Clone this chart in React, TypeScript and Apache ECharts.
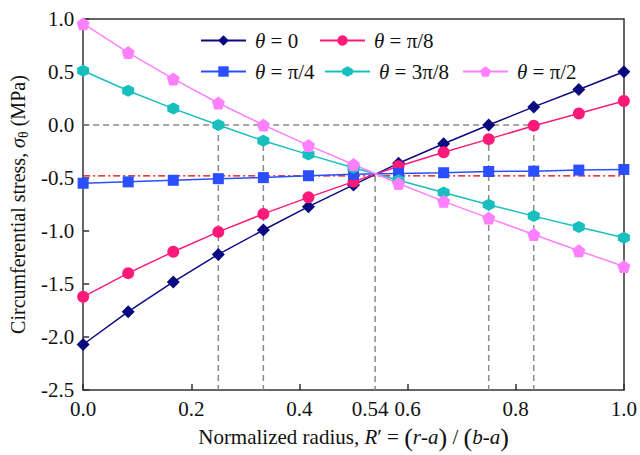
import React, { useEffect, useRef } from "react";
import * as echarts from "echarts";

const xValues = [0, 0.0833, 0.1667, 0.25, 0.3333, 0.4167, 0.5, 0.5833, 0.6667, 0.75, 0.8333, 0.9167, 1];
const theta0 = [-2.07, -1.76, -1.48, -1.22, -0.99, -0.77, -0.565, -0.36, -0.177, 0.0, 0.171, 0.335, 0.503];
const thetaPi8 = [-1.62, -1.397, -1.195, -1.008, -0.838, -0.682, -0.534, -0.388, -0.257, -0.133, -0.006, 0.109, 0.227];
const thetaPi4 = [-0.549, -0.536, -0.521, -0.506, -0.496, -0.478, -0.465, -0.456, -0.45, -0.438, -0.435, -0.425, -0.419];
const theta3Pi8 = [0.512, 0.323, 0.155, 0.0, -0.149, -0.279, -0.403, -0.52, -0.636, -0.751, -0.859, -0.962, -1.064];
const thetaPi2 = [0.956, 0.683, 0.435, 0.208, 0.0, -0.192, -0.372, -0.552, -0.72, -0.878, -1.033, -1.185, -1.334];

const seriesNames = ["θ = 0", "θ = π/8", "θ = π/4", "θ = 3π/8", "θ = π/2"];
const seriesColors = ["#0A0A80", "#FF1A7A", "#2B4EFF", "#17BFBF", "#FF80FF"];

const xTickValues = [0, 0.2, 0.4, 0.6, 0.8, 1.0];
const xLabelValues = [0, 0.2, 0.4, 0.54, 0.6, 0.8, 1.0];
const xLabelTexts = ["0.0", "0.2", "0.4", "0.54", "0.6", "0.8", "1.0"];

// reference lines
const zeroCrossX = [0.25, 0.3333, 0.75, 0.8333];
const intersectX = 0.54;
const intersectY = -0.48;
const yMin = -2.5;

const FONT = "'Liberation Serif', 'Times New Roman', serif";

const PENTAGON = "path://M0,-10 L9.51,-3.09 L5.88,8.09 L-5.88,8.09 L-9.51,-3.09 Z";
const HEXAGON = "path://M0,-10 L8.66,-5 L8.66,5 L0,10 L-8.66,5 L-8.66,-5 Z";

export default function App() {
  const ref = useRef<HTMLDivElement>(null);
  useEffect(() => {
    if (!ref.current) return;
    const chart = echarts.init(ref.current, null, { renderer: "svg" });
    const dataSets = [theta0, thetaPi8, thetaPi4, theta3Pi8, thetaPi2];
    const symbols = ["diamond", "circle", "rect", HEXAGON, PENTAGON];
    const sizes = [13, 12, 11, 12, 13];

    const dashed = { color: "#8a8a8a", width: 1.5, type: [6, 4] as any };
    const refSeries: any[] = [];
    refSeries.push({
      type: "line",
      data: [[0, 0], [zeroCrossX[zeroCrossX.length - 1], 0]],
      symbol: "none",
      lineStyle: dashed,
      silent: true,
      z: 1,
    });
    zeroCrossX.forEach((x) => {
      refSeries.push({
        type: "line",
        data: [[x, 0], [x, yMin]],
        symbol: "none",
        lineStyle: dashed,
        silent: true,
        z: 1,
      });
    });
    refSeries.push({
      type: "line",
      data: [[intersectX, intersectY], [intersectX, yMin]],
      symbol: "none",
      lineStyle: dashed,
      silent: true,
      z: 1,
    });
    refSeries.push({
      type: "line",
      data: [[0, intersectY], [1, intersectY]],
      symbol: "none",
      lineStyle: { color: "#E00000", width: 1.2, type: [7, 3, 2, 3] as any },
      silent: true,
      z: 1,
    });

    const dataSeries = dataSets.map((ys, i) => ({
      name: seriesNames[i],
      type: "line",
      data: ys.map((y, k) => [xValues[k], y]),
      symbol: symbols[i],
      symbolSize: sizes[i],
      color: seriesColors[i],
      itemStyle: { color: seriesColors[i] },
      lineStyle: { color: seriesColors[i], width: 1.5 },
      z: 3,
    }));

    const legendPos = [
      { left: 200, top: 30 },
      { left: 319, top: 30 },
      { left: 200, top: 61 },
      { left: 324, top: 61 },
      { left: 462, top: 61 },
    ];

    const legends = seriesNames.map((n, i) => ({
      data: [n],
      left: legendPos[i].left,
      top: legendPos[i].top,
      padding: 0,
      itemWidth: 45,
      itemHeight: 13,
      selectedMode: false,
      formatter: (name: string) => "{i|θ}" + name.slice(1),
      textStyle: {
        fontFamily: FONT,
        fontSize: 21,
        color: "#111",
        padding: [0, 0, 0, 4],
        rich: { i: { fontFamily: FONT, fontSize: 21, fontStyle: "italic", color: "#111" } },
      },
    }));

    const axisLine = { show: true, onZero: false, lineStyle: { color: "#333", width: 1.5 } };

    chart.setOption({
      animation: false,
      textStyle: { fontFamily: FONT },
      grid: { left: 76, right: 14, top: 19, bottom: 60, containLabel: false },
      legend: legends,
      xAxis: [
        {
          type: "value",
          min: 0,
          max: 1,
          interval: 0.2,
          axisLine: axisLine,
          axisTick: { show: true, inside: true, length: 6, customValues: xTickValues, lineStyle: { color: "#333", width: 1.5 } },
          axisLabel: {
            customValues: xLabelValues,
            margin: 8,
            fontFamily: FONT,
            fontSize: 21,
            color: "#111",
            formatter: (v: number) => {
              const idx = xLabelValues.findIndex((t) => Math.abs(t - v) < 1e-6);
              if (idx < 0) return "";
              return xLabelTexts[idx] === "0.54" ? "{s|0.54}" : xLabelTexts[idx];
            },
            rich: { s: { fontFamily: FONT, fontSize: 21, color: "#111", padding: [0, 10, 0, 0] } },
          },
          splitLine: { show: false },
          name:
            "{n|Normalized radius, }{i|R}{n|′ = }{p|(}{i|r}{n|-}{i|a}{p|)}{n| / }{p|(}{i|b}{n|-}{i|a}{p|)}",
          nameLocation: "middle",
          nameGap: 29,
          nameTextStyle: {
            fontFamily: FONT,
            color: "#111",
            rich: {
              n: { fontFamily: FONT, fontSize: 21, color: "#111" },
              i: { fontFamily: FONT, fontSize: 21, fontStyle: "italic", color: "#111" },
              p: { fontFamily: FONT, fontSize: 26, color: "#111" },
            },
          },
        },
        {
          type: "value",
          min: 0,
          max: 1,
          position: "top",
          axisLine: axisLine,
          axisTick: { show: false },
          axisLabel: { show: false },
          splitLine: { show: false },
        },
      ],
      yAxis: [
        {
          type: "value",
          min: -2.5,
          max: 1,
          interval: 0.5,
          axisLine: axisLine,
          axisTick: { show: true, inside: true, length: 6, lineStyle: { color: "#333", width: 1.5 } },
          axisLabel: {
            margin: 9,
            fontFamily: FONT,
            fontSize: 21,
            color: "#111",
            formatter: (v: number) => v.toFixed(1),
          },
          splitLine: { show: false },
          name: "{n|Circumferential stress, }{s|σ}{sub|θ}{n| (MPa)}",
          nameLocation: "middle",
          nameGap: 49,
          nameTextStyle: {
            fontFamily: FONT,
            color: "#111",
            rich: {
              n: { fontFamily: FONT, fontSize: 20, color: "#111", lineHeight: 24 },
              s: { fontFamily: FONT, fontSize: 20, fontStyle: "italic", color: "#111", lineHeight: 24 },
              sub: { fontFamily: FONT, fontSize: 14, color: "#111", verticalAlign: "bottom", lineHeight: 14 },
            },
          },
        },
        {
          type: "value",
          min: -2.5,
          max: 1,
          position: "right",
          axisLine: axisLine,
          axisTick: { show: false },
          axisLabel: { show: false },
          splitLine: { show: false },
        },
      ],
      series: [...refSeries, ...dataSeries],
    });
    return () => chart.dispose();
  }, []);
  return <div ref={ref} style={{ width: 640, height: 455, position: "absolute", left: 0, top: 0 }} />;
}
